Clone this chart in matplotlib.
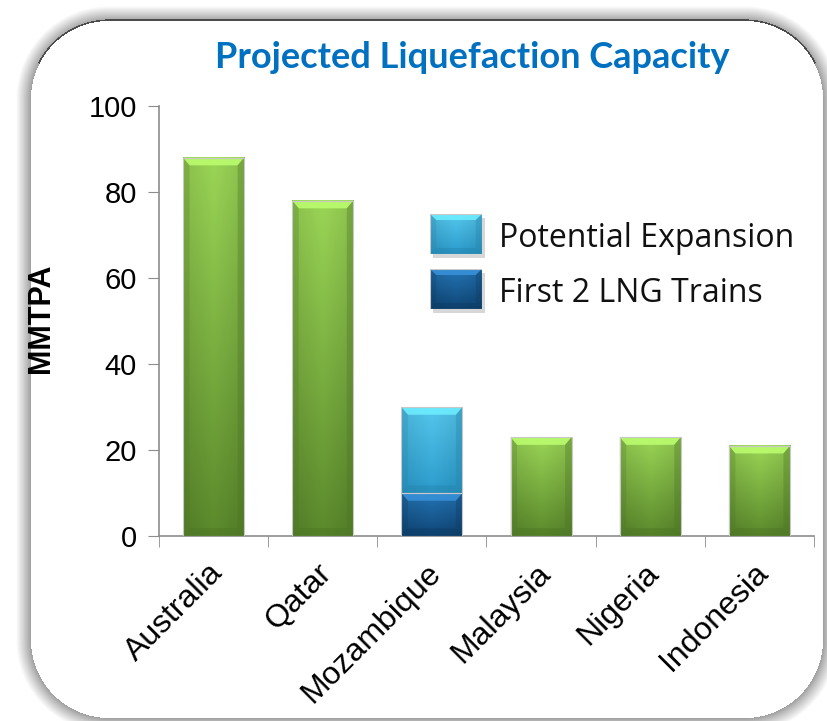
import numpy as np
import matplotlib
matplotlib.use("Agg")
import matplotlib.pyplot as plt
from matplotlib.colors import to_rgb
from matplotlib.patches import Polygon
from matplotlib.transforms import ScaledTranslation

countries = ["Australia", "Qatar", "Mozambique", "Malaysia", "Nigeria", "Indonesia"]
base_capacity = [88, 78, 0, 23, 23, 21]       # existing / planned, MMTPA
first_trains = [0, 0, 10, 0, 0, 0]             # Mozambique first 2 LNG trains
expansion = [0, 0, 20, 0, 0, 0]                # Mozambique potential expansion
yticks = [0, 20, 40, 60, 80, 100]

W, H, DPI = 828, 721, 100

GREEN = ("#9bd656", "#5b8a2c")
LIGHT_BLUE = ("#55c8ee", "#2b9ccd")
DARK_BLUE = ("#2475b5", "#0f4677")


def frame_image():
    # rounded white card with a soft grey rim
    yy, xx = np.mgrid[0:H, 0:W] + 0.5
    x0, y0, x1, y1, r = 31, 21, 823, 718, 78
    cx = np.clip(xx, x0 + r, x1 - r)
    cy = np.clip(yy, y0 + r, y1 - r)
    d = np.hypot(xx - cx, yy - cy) - r
    band = 15.0
    t = np.clip(d / band, 0, 1)
    g = np.where(d <= 0, 1.0, 0.62 + 0.38 * t ** 0.9)
    img = np.ones((H, W, 4))
    img[..., 0] = g
    img[..., 1] = g
    img[..., 2] = g
    # thin dark edge along the top of the card
    edge = (d > 0) & (d < 1.6) & ((yy - cy) < -0.45 * np.hypot(xx - cx, yy - cy))
    img[edge, :3] = 0.3
    return img


def bevel_bar(ax, x, y, w, h, colors, bx, by, z=3):
    if h <= 0:
        return
    top, bot = np.array(to_rgb(colors[0])), np.array(to_rgb(colors[1]))
    v = np.linspace(0, 1, 64)[:, None, None]
    u = np.linspace(0, 1, 32)[None, :, None]
    grad = top * (1 - v) + bot * v
    grad = grad * (1 - 0.10 * np.abs(u - 0.5) * 2)
    ax.imshow(np.clip(grad, 0, 1), extent=[x, x + w, y, y + h],
              aspect="auto", origin="upper", zorder=z, interpolation="bilinear")
    by = min(by, h / 4)
    light = np.clip(top * 1.12 + 0.06, 0, 1)
    dark = bot * 0.85
    # top, side and bottom facets
    ax.add_patch(Polygon([(x, y + h), (x + w, y + h), (x + w - bx, y + h - by),
                          (x + bx, y + h - by)], closed=True, fc=light, ec="none",
                         alpha=0.85, zorder=z + 1))
    ax.add_patch(Polygon([(x, y), (x + bx, y + by), (x + bx, y + h - by), (x, y + h)],
                         closed=True, fc=dark, ec="none", alpha=0.25, zorder=z + 1))
    ax.add_patch(Polygon([(x + w, y), (x + w - bx, y + by), (x + w - bx, y + h - by),
                          (x + w, y + h)], closed=True, fc=dark, ec="none",
                         alpha=0.35, zorder=z + 1))
    ax.add_patch(Polygon([(x, y), (x + w, y), (x + w - bx, y + by), (x + bx, y + by)],
                         closed=True, fc=dark, ec="none", alpha=0.45, zorder=z + 1))
    ax.add_patch(plt.Rectangle((x, y), w, h, fc="none", ec="#c8c8c8", lw=0.8,
                               zorder=z + 2))


fig = plt.figure(figsize=(W / DPI, H / DPI), dpi=DPI)
fig.figimage(frame_image(), 0, 0, origin="upper", zorder=0)

ax = fig.add_axes([159 / W, (H - 536) / H, (814 - 159) / W, (536 - 106) / H])
ax.set_zorder(2)
ax.patch.set_alpha(0)

pos = np.arange(len(countries))
bw = 0.56
series = [(base_capacity, np.zeros(len(pos)), GREEN),
          (first_trains, np.zeros(len(pos)), DARK_BLUE),
          (expansion, np.array(first_trains, float), LIGHT_BLUE)]
for vals, bottoms, cols in series:
    bars = ax.bar(pos, vals, bw, bottom=bottoms, color="none", zorder=3)
    for p in bars.patches:
        bevel_bar(ax, p.get_x(), p.get_y(), p.get_width(), p.get_height(), cols,
                  bx=0.06, by=1.8)

ax.set_xlim(-0.5, len(countries) - 0.5)
ax.set_ylim(0, 100)
ax.set_yticks(yticks)
ax.set_xticks(pos)
ax.set_xticklabels([])
ax.set_xticks(np.arange(len(countries) + 1) - 0.5, minor=True)

# category names: slanted, ending just right of each bar centre
label_tf = ax.get_xaxis_transform() + ScaledTranslation(-0.06, -0.22, fig.dpi_scale_trans)
for i, name in zip(pos, countries):
    ax.text(i, 0, name, transform=label_tf, rotation=45, ha="right", va="top",
            rotation_mode="anchor", fontsize=23, family="Liberation Sans",
            clip_on=False)

ax.tick_params(axis="x", which="major", length=0)
ax.tick_params(axis="x", which="minor", length=8, color="#8c8c8c", direction="out")
ax.tick_params(axis="y", length=8, color="#8c8c8c", direction="out", pad=8,
               labelsize=21)
for lab in ax.get_yticklabels():
    lab.set_family("Liberation Sans")
for s in ("top", "right"):
    ax.spines[s].set_visible(False)
for s in ("left", "bottom"):
    ax.spines[s].set_color("#8c8c8c")
    ax.spines[s].set_linewidth(1.2)
ax.set_ylabel("MMTPA", fontsize=22, fontweight="bold", family="Liberation Sans")
ax.yaxis.set_label_coords(-0.158, 0.507)

fig.text(472 / W, 1 - 57 / H, "Projected Liquefaction Capacity", ha="center",
         va="center", fontsize=26, fontweight="bold", color="#0070c0", family="Lato")

# legend swatches drawn with the same bevelled style
legend_items = [("Potential Expansion", LIGHT_BLUE, 234), ("First 2 LNG Trains", DARK_BLUE, 289)]
for label, cols, yc in legend_items:
    sh = fig.add_axes([433 / W, 1 - (yc + 24) / H, 52 / W, 40 / H])
    sh.set_zorder(1)
    sh.axis("off")
    sh.add_patch(plt.Rectangle((0, 0), 1, 1, fc="#b0b0b0", ec="none", alpha=0.5))
    sw = fig.add_axes([430 / W, 1 - (yc + 20) / H, 52 / W, 40 / H])
    sw.set_zorder(2)
    sw.axis("off")
    sw.set_xlim(0, 1)
    sw.set_ylim(0, 1)
    bevel_bar(sw, 0, 0, 1, 1, cols, bx=0.12, by=0.15)
    fig.text(499 / W, 1 - (yc + 4) / H, label, ha="left", va="center", fontsize=23,
             family="Open Sans", color="#111111")

fig.savefig("out.png", dpi=DPI)
